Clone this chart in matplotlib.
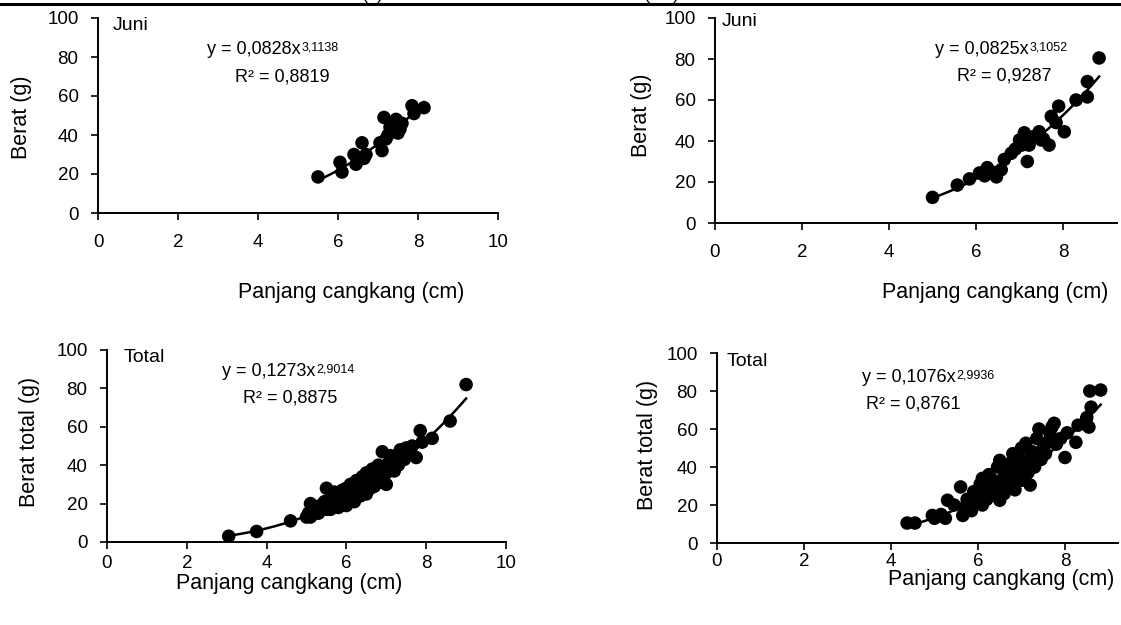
import numpy as np
import matplotlib
matplotlib.use("Agg")
import matplotlib.pyplot as plt

plt.rcParams.update({
    "font.family": ["Liberation Sans", "DejaVu Sans"],
    "font.size": 13,
    "axes.linewidth": 1.4,
    "xtick.major.size": 5,
    "ytick.major.size": 5,
    "xtick.major.width": 1.2,
    "ytick.major.width": 1.2,
    "ytick.major.pad": 9,
    "xtick.direction": "out",
    "ytick.direction": "out",
})

W, H = 1121, 625

# ---- data ----
# top-left: Juni
tl_x = [5.5, 6.05, 6.1, 6.4, 6.45, 6.5, 6.6, 6.65, 6.7, 7.05,
        7.1, 7.15, 7.2, 7.25, 7.3, 7.35, 7.45, 7.5, 7.55, 7.6,
        7.85, 7.9, 8.15]
tl_y = [18.5, 26, 21, 30, 25, 27, 36, 28, 30, 36,
        32, 49, 38, 40, 44, 42, 48, 41, 43, 46,
        55, 51, 54]
tl_fit = (0.0828, 3.1138, "0,0828", "3,1138", "0,8819")

# top-right: Juni
tr_x = [5.0, 5.57, 5.85, 6.08, 6.2, 6.26, 6.35, 6.47, 6.58, 6.65,
        6.81, 6.9, 7.0, 7.05, 7.11, 7.18, 7.22, 7.3, 7.45, 7.5,
        7.55, 7.68, 7.73, 7.84, 7.9, 8.03, 8.3, 8.56, 8.56, 8.83]
tr_y = [12.5, 18.5, 21.5, 24.4, 23, 27, 25, 22.5, 26, 31,
        34, 36, 40.5, 38, 44, 30, 38, 42, 44.5, 40.5,
        41, 38, 52, 49, 57, 44.5, 60, 61.5, 69, 80.5]
tr_fit = (0.0825, 3.1052, "0,0825", "3,1052", "0,9287")

# bottom-left: Total
bl_x = [3.05, 3.75, 4.6, 5.0, 5.05, 5.1, 5.1, 5.2, 5.25, 5.3,
        5.35, 5.4, 5.45, 5.5, 5.5, 5.55, 5.6, 5.6, 5.65, 5.7,
        5.7, 5.75, 5.8, 5.8, 5.85, 5.9, 5.9, 5.95, 6.0, 6.0,
        6.0, 6.05, 6.1, 6.1, 6.15, 6.2, 6.2, 6.25, 6.3, 6.3,
        6.35, 6.4, 6.4, 6.45, 6.5, 6.5, 6.5, 6.55, 6.6, 6.6,
        6.65, 6.7, 6.7, 6.75, 6.8, 6.8, 6.85, 6.9, 6.9, 6.95,
        7.0, 7.0, 7.05, 7.1, 7.1, 7.2, 7.2, 7.25, 7.3, 7.35,
        7.4, 7.45, 7.5, 7.6, 7.65, 7.75, 7.85, 7.9, 8.15, 8.6,
        9.0]
bl_y = [3, 5.5, 11, 13, 15, 20, 13, 16, 17, 15,
        19, 18, 21, 28, 17, 20, 22, 17, 24, 19,
        26, 21, 23, 18, 25, 22, 27, 20, 24, 28,
        19, 26, 23, 30, 25, 28, 21, 32, 26, 30,
        24, 29, 34, 27, 31, 25, 36, 30, 33, 28,
        38, 34, 29, 36, 31, 40, 35, 33, 47, 38,
        36, 30, 41, 39, 45, 42, 37, 44, 40, 48,
        46, 43, 49, 47, 50, 44, 58, 52, 54, 63,
        82]
bl_fit = (0.1273, 2.9014, "0,1273", "2,9014", "0,8875")

# bottom-right: Total
br_x = [4.37, 4.55, 4.95, 5.0, 5.15, 5.25, 5.3, 5.45, 5.6, 5.65,
        5.7, 5.75, 5.85, 5.9, 5.95, 6.0, 6.05, 6.1, 6.1, 6.15,
        6.2, 6.25, 6.3, 6.3, 6.35, 6.4, 6.45, 6.5, 6.5, 6.55,
        6.6, 6.6, 6.65, 6.7, 6.75, 6.8, 6.8, 6.85, 6.9, 6.95,
        7.0, 7.0, 7.05, 7.1, 7.15, 7.2, 7.2, 7.25, 7.3, 7.35,
        7.4, 7.45, 7.5, 7.55, 7.6, 7.65, 7.7, 7.75, 7.8, 7.9,
        8.0, 8.05, 8.25, 8.3, 8.5, 8.55, 8.6, 8.57, 8.82]
br_y = [10.5, 10.5, 14.5, 13, 15, 13, 22.5, 20, 29.5, 14.5,
        19, 23, 17, 27, 21, 25, 31, 20, 34, 27,
        23, 36, 30, 25, 33, 28, 40, 22.5, 43.5, 31,
        35, 26, 39, 30, 42, 34, 47, 28, 38, 44,
        50, 33, 41, 52.5, 37, 30.5, 45, 48, 40, 55,
        60, 44, 50, 47, 53, 58, 61, 63, 52, 55,
        45, 58, 53, 62, 66, 61, 71.5, 80, 80.5]
br_fit = (0.1076, 2.9936, "0,1076", "2,9936", "0,8761")


def px(x, y):
    return x / W, 1 - y / H


def rect(left, right, top, bottom):
    return [left / W, 1 - bottom / H, (right - left) / W, (bottom - top) / H]


fig = plt.figure(figsize=(W / 100, H / 100), dpi=100)

panels = [
    dict(x=tl_x, y=tl_y, fit=tl_fit, r=rect(98, 498, 18, 213), xmax=10,
         xticks=[0, 2, 4, 6, 8, 10], xpad=10, tag="Juni", tag_at=(113, 25),
         ylab="Berat (g)", ylab_at=(22, 117), xlab_at=(351, 292),
         eq_at=(207, 50), r2_at=(235, 77)),
    dict(x=tr_x, y=tr_y, fit=tr_fit, r=rect(715, 1117, 18, 223), xmax=402 / 43.5,
         xticks=[0, 2, 4, 6, 8], xpad=10, tag="Juni", tag_at=(722, 22),
         ylab="Berat (g)", ylab_at=(641, 115), xlab_at=(995, 292),
         eq_at=(935, 50), r2_at=(957, 76)),
    dict(x=bl_x, y=bl_y, fit=bl_fit, r=rect(107, 506, 350, 542), xmax=10,
         xticks=[0, 2, 4, 6, 8, 10], xpad=4, tag="Total", tag_at=(124, 357),
         ylab="Berat total (g)", ylab_at=(30, 442), xlab_at=(289, 584),
         eq_at=(222, 372), r2_at=(243, 398)),
    dict(x=br_x, y=br_y, fit=br_fit, r=rect(717, 1118, 353, 543), xmax=401 / 43.5,
         xticks=[0, 2, 4, 6, 8], xpad=2.5, tag="Total", tag_at=(727, 361),
         ylab="Berat total (g)", ylab_at=(648, 445), xlab_at=(1001, 580),
         eq_at=(862, 378), r2_at=(866, 404)),
]

for p in panels:
    ax = fig.add_axes(p["r"])
    ax.scatter(p["x"], p["y"], s=95, color="black", edgecolor="none", zorder=2)
    a, b, a_txt, b_txt, r2_txt = p["fit"]
    xs = np.linspace(min(p["x"]), max(p["x"]), 200)
    ax.plot(xs, a * xs ** b, color="black", lw=1.8, zorder=3)
    ax.set_xlim(0, p["xmax"])
    ax.set_ylim(0, 100)
    ax.set_xticks(p["xticks"])
    ax.set_yticks([0, 20, 40, 60, 80, 100])
    ax.tick_params(labelsize=13.5)
    ax.tick_params(axis="x", pad=p["xpad"])
    for s in ["top", "right"]:
        ax.spines[s].set_visible(False)
    ax.patch.set_alpha(0)

    fig.text(*px(*p["tag_at"]), p["tag"], fontsize=14, va="center", ha="left")
    fig.text(*px(*p["ylab_at"]), p["ylab"], fontsize=15.5, rotation=90,
             va="center", ha="center")
    fig.text(*px(*p["xlab_at"]), "Panjang cangkang (cm)", fontsize=15.5,
             va="center", ha="center")
    t = fig.text(*px(*p["eq_at"]), f"y = {a_txt}x", fontsize=13,
                 va="center", ha="left")
    ax.annotate(b_txt, xy=(1, 1), xycoords=t, xytext=(0.5, 0),
                textcoords="offset points", fontsize=9, va="top", ha="left",
                annotation_clip=False)
    fig.text(*px(*p["r2_at"]), f"R² = {r2_txt}", fontsize=13,
             va="center", ha="left")

# rule and the caption clipped at the very top
fig.add_artist(plt.Line2D([0, 1], [1 - 4 / H] * 2, color="black", lw=2.2))
fig.text(*px(362, 3), "(a)", fontsize=13, va="bottom", ha="left")
fig.text(*px(680, 3), "(cm)", fontsize=13, va="bottom", ha="right")

fig.savefig("out.png", dpi=100)
